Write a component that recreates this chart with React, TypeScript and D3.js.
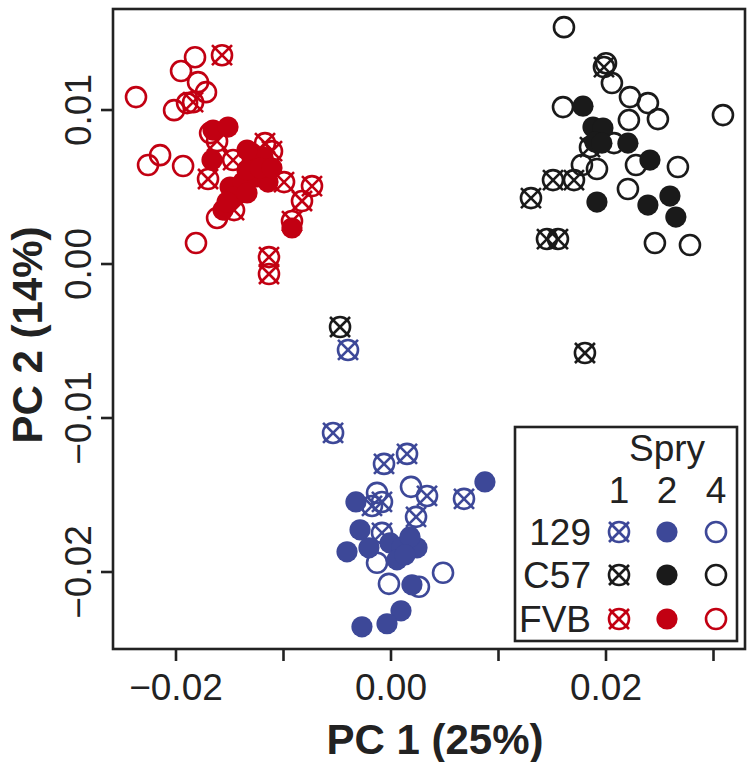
import React from "react";
import * as d3 from "d3";

// PC1, PC2 values per strain (129, C57, FVB) and Spry gene (1, 2, 4)
const fvbSpry4: [number, number][] = [
  [-0.02372, 0.01084], [-0.01953, 0.01253], [-0.01823, 0.01343], [-0.01795, 0.01181],
  [-0.01721, 0.01116], [-0.02018, 0.00999], [-0.01897, 0.01045], [-0.02148, 0.00707],
  [-0.0226, 0.00643], [-0.01934, 0.00636], [-0.01814, 0.00136], [-0.01618, 0.00299],
  [-0.01683, 0.0085],
];
const fvbSpry1: [number, number][] = [
  [-0.01572, 0.01356], [-0.01841, 0.01051], [-0.01702, 0.00552], [-0.01469, 0.00675],
  [-0.01172, 0.00785], [-0.01107, 0.00733], [-0.00995, 0.00532], [-0.00735, 0.00506],
  [-0.00828, 0.00409], [-0.00921, 0.00279], [-0.0146, 0.0035], [-0.01135, 0.00045],
  [-0.01135, -0.00065], [-0.01618, 0.00798],
];
const fvbSpry2: [number, number][] = [
  [-0.01655, 0.0087], [-0.01516, 0.00889], [-0.01665, 0.00675], [-0.01293, 0.0072],
  [-0.0119, 0.00694], [-0.01497, 0.005], [-0.01376, 0.00532], [-0.01246, 0.00565],
  [-0.01144, 0.00532], [-0.01339, 0.0061], [-0.01218, 0.00623], [-0.01562, 0.0035],
  [-0.01469, 0.00435], [-0.01339, 0.00461], [-0.01525, 0.00402], [-0.00921, 0.00234],
  [-0.01339, 0.0074], [-0.01107, 0.00623],
];
const c57Spry4: [number, number][] = [
  [0.01609, 0.01538], [0.02, 0.01304], [0.02055, 0.01175], [0.02223, 0.01084],
  [0.0239, 0.01045], [0.016, 0.01019], [0.02213, 0.00935], [0.02483, 0.00941],
  [0.03088, 0.00967], [0.02074, 0.00785], [0.02279, 0.00643], [0.01776, 0.00643],
  [0.01916, 0.00617], [0.02669, 0.0063], [0.02204, 0.00487], [0.02455, 0.00136],
  [0.02781, 0.00123],
];
const c57Spry1: [number, number][] = [
  [0.01981, 0.01279], [0.01851, 0.00759], [0.01507, 0.00545], [0.01702, 0.00545],
  [0.01302, 0.00428], [0.01451, 0.00162], [0.01553, 0.00162], [-0.00474, -0.00409],
  [0.01804, -0.00578],
];
const c57Spry2: [number, number][] = [
  [0.01786, 0.01025], [0.01879, 0.00889], [0.01972, 0.00883], [0.01897, 0.00792],
  [0.01962, 0.00785], [0.02204, 0.00785], [0.02409, 0.00675], [0.01916, 0.00402],
  [0.0239, 0.00383], [0.02595, 0.00441], [0.0265, 0.00305],
];
const s129Spry1: [number, number][] = [
  [-0.004, -0.00558], [-0.00539, -0.01097], [-0.00065, -0.01298], [0.00149, -0.01233],
  [0.00335, -0.01506], [0.00679, -0.01525], [0.00233, -0.01642], [-0.00177, -0.01571],
  [-0.00084, -0.01545], [-0.00084, -0.01746],
];
const s129Spry4: [number, number][] = [
  [-0.0013, -0.01486], [0.00186, -0.01447], [-0.0013, -0.0194], [-0.00019, -0.02077],
  [0.0026, -0.02096], [0.00484, -0.02005],
];
const s129Spry2: [number, number][] = [
  [0.00874, -0.01415], [-0.00326, -0.01545], [-0.00288, -0.01726], [-0.00409, -0.01869],
  [-0.00205, -0.01843], [-0.00009, -0.01811], [0.00102, -0.01837], [0.00056, -0.01921],
  [0.00242, -0.01843], [0.00177, -0.01772], [0.00195, -0.02083], [0.00093, -0.02252],
  [-0.00037, -0.02336], [-0.0027, -0.02356], [0.0013, -0.01889],
];

const xTicks = [-0.02, -0.01, 0, 0.01, 0.02, 0.03];
const xTickLabels = ["\u22120.02", "", "0.00", "", "0.02", ""];
const yTicks = [-0.02, -0.01, 0, 0.01];
const yTickLabels = ["\u22120.02", "\u22120.01", "0.00", "0.01"];
const strains = ["129", "C57", "FVB"];
const sprys = ["1", "2", "4"];
const xTitle = "PC 1 (25%)";
const yTitle = "PC 2 (14%)";
const legendTitle = "Spry";

const RED = "#C20012";
const BLUE = "#3D4898";
const BLACK = "#1A1A1A";
const strainColors = [BLUE, BLACK, RED];

const W = 752, H = 762;
const left = 113, right = 745, top = 9, bottom = 649;
const FONT = "'Liberation Sans', Arial, Helvetica, sans-serif";

const x = d3.scaleLinear().domain([-0.02586, 0.03293]).range([left, right]);
const y = d3.scaleLinear().domain([-0.025, 0.01656]).range([bottom, top]);

const R = 10;
const SW = 2.6;

function Marker({ cx, cy, kind, color }: { cx: number; cy: number; kind: string; color: string }) {
  if (kind === "2") return <circle cx={cx} cy={cy} r={R + 0.6} fill={color} />;
  if (kind === "4") return <circle cx={cx} cy={cy} r={R} fill="none" stroke={color} strokeWidth={SW} />;
  return (
    <g stroke={color} strokeWidth={SW} fill="none">
      <circle cx={cx} cy={cy} r={R} />
      <line x1={cx - R} y1={cy - R} x2={cx + R} y2={cy + R} />
      <line x1={cx - R} y1={cy + R} x2={cx + R} y2={cy - R} />
    </g>
  );
}

const layers: { data: [number, number][]; kind: string; color: string }[] = [
  { data: fvbSpry4, kind: "4", color: RED },
  { data: fvbSpry1, kind: "1", color: RED },
  { data: fvbSpry2, kind: "2", color: RED },
  { data: c57Spry4, kind: "4", color: BLACK },
  { data: c57Spry1, kind: "1", color: BLACK },
  { data: c57Spry2, kind: "2", color: BLACK },
  { data: s129Spry4, kind: "4", color: BLUE },
  { data: s129Spry1, kind: "1", color: BLUE },
  { data: s129Spry2, kind: "2", color: BLUE },
];

export default function App() {
  const legX = 515, legY = 427, legW = 222, legH = 214;
  const colX = [619, 667, 716];
  const rowY = [532, 575, 619];
  return (
    <svg width={W} height={H} style={{ position: "absolute", left: 0, top: 0, background: "#fff" }} fontFamily={FONT}>
      {layers.map((l, i) => (
        <g key={i}>
          {l.data.map((d, j) => (
            <Marker key={j} cx={x(d[0])} cy={y(d[1])} kind={l.kind} color={l.color} />
          ))}
        </g>
      ))}
      {/* frame */}
      <rect x={left} y={top} width={right - left} height={bottom - top} fill="none" stroke="#222" strokeWidth={2.6} />
      {/* x axis */}
      {xTicks.map((t, i) => (
        <g key={i}>
          <line x1={x(t)} x2={x(t)} y1={bottom} y2={bottom + 12} stroke="#222" strokeWidth={2.6} />
          {xTickLabels[i] && (
            <text x={x(t)} y={700} textAnchor="middle" fontSize={37} fill="#222">{xTickLabels[i]}</text>
          )}
        </g>
      ))}
      {yTicks.map((t, i) => (
        <g key={i}>
          <line x1={left - 12} x2={left} y1={y(t)} y2={y(t)} stroke="#222" strokeWidth={2.6} />
          <text transform={`translate(91,${y(t)}) rotate(-90)`} textAnchor="middle" fontSize={37} fill="#222">{yTickLabels[i]}</text>
        </g>
      ))}
      <text x={435} y={754} textAnchor="middle" fontSize={42} fontWeight="bold" fill="#222">{xTitle}</text>
      <text transform={`translate(42,335) rotate(-90)`} textAnchor="middle" fontSize={42} fontWeight="bold" fill="#222">{yTitle}</text>
      {/* legend */}
      <rect x={legX} y={legY} width={legW} height={legH} fill="#fff" stroke="#222" strokeWidth={2.6} />
      <text x={667} y={461} textAnchor="middle" fontSize={37} fill="#222">{legendTitle}</text>
      {sprys.map((s, i) => (
        <text key={s} x={colX[i]} y={503} textAnchor="middle" fontSize={37} fill="#222">{s}</text>
      ))}
      {strains.map((s, r) => (
        <g key={s}>
          <text x={591} y={rowY[r] + 13} textAnchor="end" fontSize={37} fill="#222">{s}</text>
          {sprys.map((k, c) => (
            <Marker key={k} cx={colX[c]} cy={rowY[r]} kind={k} color={strainColors[r]} />
          ))}
        </g>
      ))}
    </svg>
  );
}
